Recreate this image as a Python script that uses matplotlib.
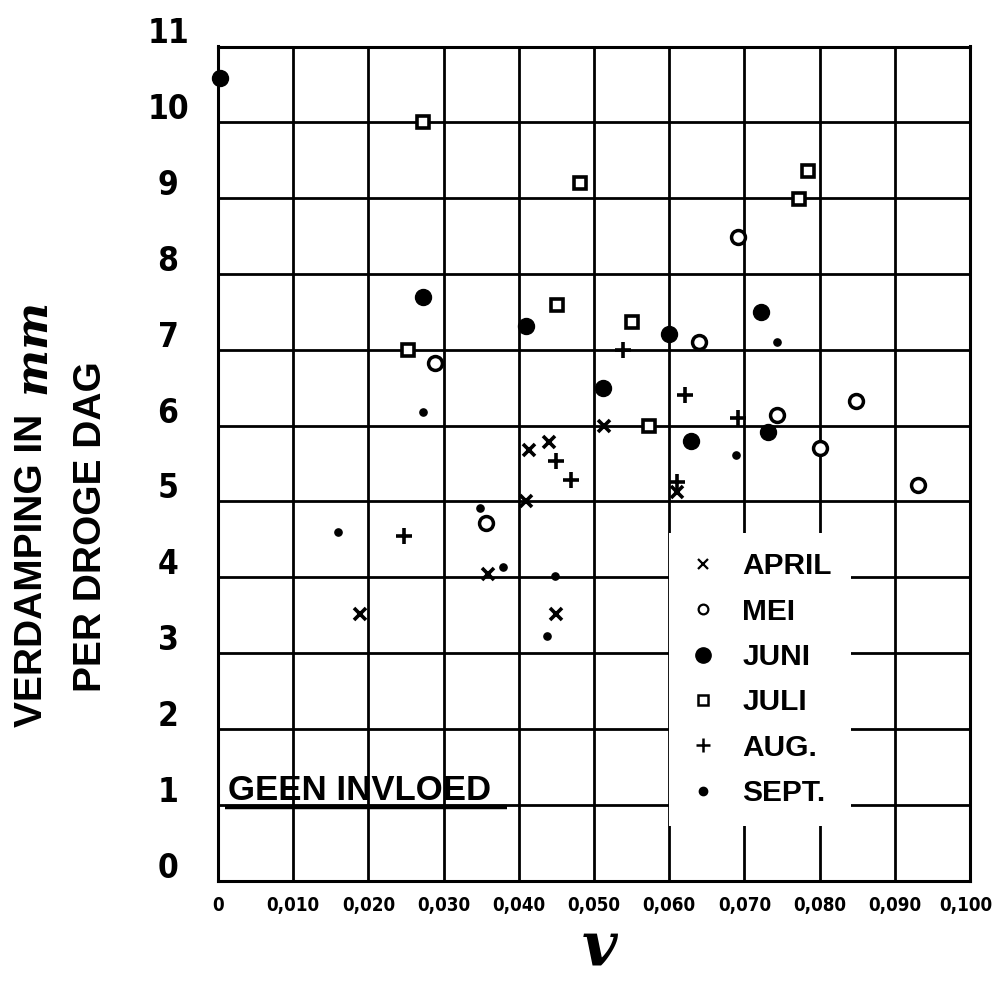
import matplotlib
matplotlib.use("Agg")
import matplotlib.pyplot as plt
from matplotlib import font_manager
from matplotlib.transforms import ScaledTranslation

# Evaporation per dry day (mm) against v, by month
april_v = [0.0189, 0.0359, 0.0409, 0.0413, 0.0440, 0.0450, 0.0513, 0.0611]
april_e = [3.52, 4.04, 5.01, 5.68, 5.79, 3.52, 5.99, 5.13]

mei_v = [0.0289, 0.0357, 0.0639, 0.0691, 0.0743, 0.0800, 0.0849, 0.0931]
mei_e = [6.82, 4.72, 7.10, 8.49, 6.14, 5.70, 6.33, 5.21]

juni_v = [0.0003, 0.0272, 0.0410, 0.0512, 0.0600, 0.0629, 0.0722, 0.0731]
juni_e = [10.59, 7.70, 7.31, 6.50, 7.21, 5.80, 7.50, 5.91]

juli_v = [0.0273, 0.0252, 0.0481, 0.0451, 0.0551, 0.0573, 0.0772, 0.0785]
juli_e = [10.00, 7.00, 9.20, 7.59, 7.37, 6.00, 8.99, 9.36]

aug_v = [0.0248, 0.0449, 0.0469, 0.0539, 0.0611, 0.0621, 0.0691]
aug_e = [4.54, 5.53, 5.28, 7.00, 5.26, 6.40, 6.10]

sept_v = [0.0160, 0.0273, 0.0349, 0.0379, 0.0448, 0.0438, 0.0689, 0.0744]
sept_e = [4.60, 6.18, 4.91, 4.14, 4.02, 3.22, 5.61, 7.10]

x_ticks = [0.00, 0.01, 0.02, 0.03, 0.04, 0.05, 0.06, 0.07, 0.08, 0.09, 0.10]
x_tick_labels = ["0", "0,010", "0,020", "0,030", "0,040", "0,050",
                 "0,060", "0,070", "0,080", "0,090", "0,100"]
y_ticks = list(range(0, 12))
y_tick_labels = [str(v) for v in y_ticks]

# pick a condensed bold face for the numbers if one is installed
narrow_file = None
for f in sorted(font_manager.findSystemFonts()):
    low = f.lower()
    if ("narrow" in low or "condensed" in low) and "bold" in low \
            and "italic" not in low and "oblique" not in low:
        if "liberation" in low or "dejavusans" in low.replace("-", ""):
            narrow_file = f
            break

if narrow_file:
    NARROW_PROP = font_manager.FontProperties(fname=narrow_file)
else:
    NARROW_PROP = font_manager.FontProperties(family="Liberation Sans",
                                              weight="bold")

WIDE = ["Liberation Sans", "DejaVu Sans"]

plt.rcParams["mathtext.fontset"] = "custom"
plt.rcParams["mathtext.it"] = "DejaVu Serif:italic:bold"

fig = plt.figure(figsize=(9.97, 9.83), dpi=100)
ax = fig.add_axes([218 / 997, 1 - 880.5 / 983, 752 / 997, 834 / 983])

ax.set_xlim(0, 0.10)
ax.set_ylim(0, 11)
ax.set_xticks(x_ticks)
ax.set_xticklabels(x_tick_labels)
ax.set_yticks(y_ticks)
ax.set_yticklabels(y_tick_labels)
ax.tick_params(length=0)
ax.tick_params(axis="x", pad=11)
ax.tick_params(axis="y", pad=36)
ax.grid(True, color="black", linewidth=2.0)
ax.set_axisbelow(True)
for sp in ax.spines.values():
    sp.set_linewidth(2.2)

xlabs = ax.get_xticklabels()
for lab in xlabs:
    lab.set_fontproperties(NARROW_PROP)
    lab.set_fontsize(13.5)
xlabs[-1].set_transform(xlabs[-1].get_transform() +
                        ScaledTranslation(-4 / 100, 0, fig.dpi_scale_trans))
for lab in ax.get_yticklabels():
    lab.set_fontproperties(NARROW_PROP)
    lab.set_fontsize(24)
    lab.set_horizontalalignment("center")
    lab.set_verticalalignment("baseline")
    lab.set_transform(lab.get_transform() +
                      ScaledTranslation(0, 3 / 100, fig.dpi_scale_trans))

common = dict(linestyle="none", color="black", clip_on=False, zorder=3)
ax.plot(april_v, april_e, marker="x", markersize=9, markeredgewidth=2.6,
        label="APRIL", **common)
ax.plot(mei_v, mei_e, marker="o", markersize=10, markeredgewidth=2.5,
        markerfacecolor="white", label="MEI", **common)
ax.plot(juni_v, juni_e, marker="o", markersize=11.5, label="JUNI", **common)
ax.plot(juli_v, juli_e, marker="s", markersize=8.5, markeredgewidth=2.6,
        markerfacecolor="white", label="JULI", **common)
ax.plot(aug_v, aug_e, marker="+", markersize=11, markeredgewidth=2.6,
        label="AUG.", **common)
ax.plot(sept_v, sept_e, marker="o", markersize=5.2, label="SEPT.", **common)

leg = ax.legend(loc="upper left",
                bbox_to_anchor=(669 / 997, 1 - 533 / 983),
                bbox_transform=fig.transFigure,
                borderaxespad=0, frameon=True, fancybox=False,
                facecolor="white", edgecolor="none", framealpha=1,
                prop={"family": WIDE, "weight": "bold", "size": 21.5},
                handlelength=1.0, handletextpad=0.8, labelspacing=0.58,
                borderpad=0.65, numpoints=1)
leg.set_zorder(4)
leg_sizes = [7, 7, 11, 6.5, 9.5, 6]
leg_widths = [1.6, 1.6, 1.0, 1.8, 1.8, 1.0]
for h, s, w in zip(leg.legend_handles, leg_sizes, leg_widths):
    h.set_markersize(s)
    h.set_markeredgewidth(w)

# "no influence" note with its underline
ax.text(0.0013, 1.06, "GEEN INVLOED", fontfamily=WIDE, fontweight="bold",
        fontsize=25, ha="left", va="baseline", zorder=5)
ax.plot([0.0009, 0.0384], [0.965, 0.965], color="black", linewidth=3.2,
        solid_capstyle="butt", zorder=5)

# axis titles
fig.text(32 / 997, 1 - 727 / 983, "VERDAMPING IN", rotation=90,
         ha="center", va="bottom", fontfamily=WIDE, fontweight="bold",
         fontsize=28)
fig.text(36 / 997, 1 - 350 / 983, r"$mm$", rotation=90,
         ha="center", va="center", fontsize=32)
fig.text(91 / 997, 1 - 527 / 983, "PER DROGE DAG", rotation=90,
         ha="center", va="center", fontfamily=WIDE, fontweight="bold",
         fontsize=28)
fig.text(600 / 997, 1 - 948 / 983, r"$v$", ha="center", va="center",
         fontsize=44)

fig.savefig("out.png", dpi=100)
